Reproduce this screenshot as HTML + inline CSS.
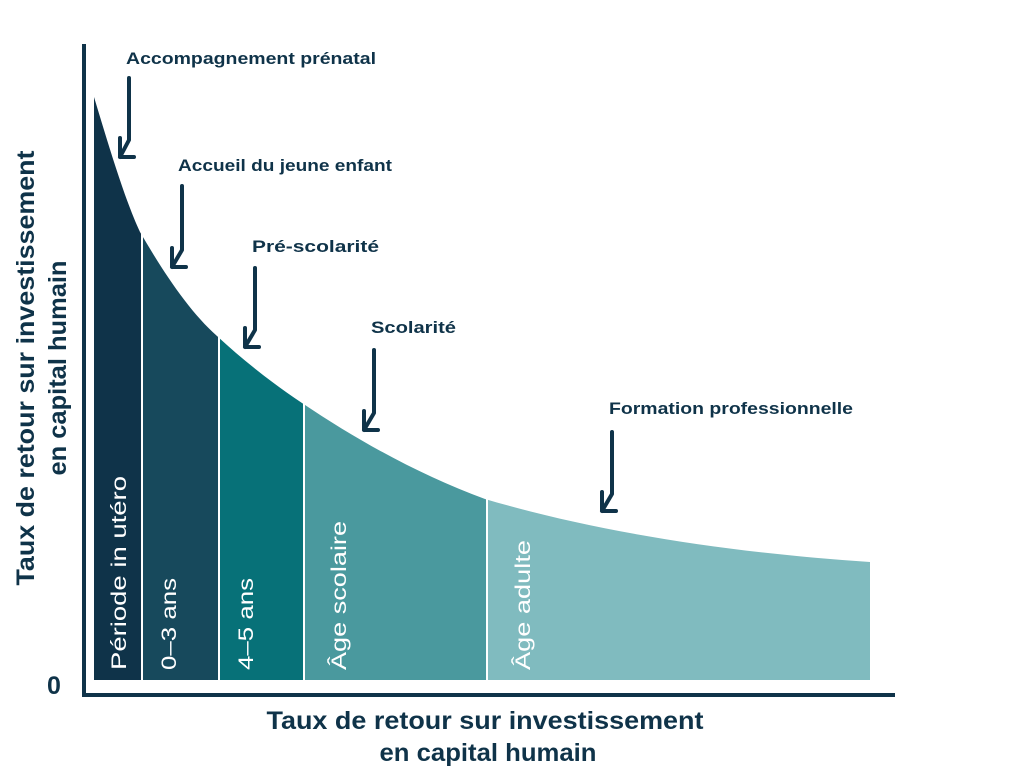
<!DOCTYPE html>
<html><head><meta charset="utf-8"><style>
html,body{margin:0;padding:0;background:#fff;}
svg{display:block;font-family:"Liberation Sans",sans-serif;}
</style></head><body>
<svg width="1024" height="775" viewBox="0 0 1024 775">
<defs>
<clipPath id="c"><path d="M94,97 C110,150 125,200 140,232 C165,275 190,312 217,336 C245,362 275,385 302,403 C360,442 420,475 485,499 C590,530 720,552 870,562 L870,680 L94,680 Z"/></clipPath>
</defs>
<g clip-path="url(#c)">
<rect x="94" y="80" width="47" height="600" fill="#0f3349"/>
<rect x="143" y="80" width="75" height="600" fill="#17495c"/>
<rect x="220" y="80" width="83" height="600" fill="#077178"/>
<rect x="305" y="80" width="181" height="600" fill="#4a999e"/>
<rect x="488" y="80" width="382" height="600" fill="#80bbbf"/>
</g>
<path d="M84,44 L84,695 L895,695" fill="none" stroke="#0f3349" stroke-width="4"/>
<text x="47" y="694" font-size="25" font-weight="bold" fill="#0f3349">0</text>
<g fill="#fff" font-size="21" lengthAdjust="spacingAndGlyphs">
<text transform="translate(126,670) rotate(-90)" textLength="194" lengthAdjust="spacingAndGlyphs">Période in utéro</text>
<text transform="translate(176,670) rotate(-90)" textLength="92" lengthAdjust="spacingAndGlyphs">0–3 ans</text>
<text transform="translate(253,670) rotate(-90)" textLength="92" lengthAdjust="spacingAndGlyphs">4–5 ans</text>
<text transform="translate(346,670) rotate(-90)" textLength="149" lengthAdjust="spacingAndGlyphs">Âge scolaire</text>
<text transform="translate(530,670) rotate(-90)" textLength="130" lengthAdjust="spacingAndGlyphs">Âge adulte</text>
</g>
<g fill="#0f3349" font-size="17" font-weight="bold">
<text x="126" y="64" textLength="250" lengthAdjust="spacingAndGlyphs">Accompagnement prénatal</text>
<text x="178" y="171" textLength="214" lengthAdjust="spacingAndGlyphs">Accueil du jeune enfant</text>
<text x="252" y="252" textLength="127" lengthAdjust="spacingAndGlyphs">Pré-scolarité</text>
<text x="371" y="333" textLength="85" lengthAdjust="spacingAndGlyphs">Scolarité</text>
<text x="609" y="414" textLength="244" lengthAdjust="spacingAndGlyphs">Formation professionnelle</text>
</g>
<g fill="none" stroke="#0f3349" stroke-width="4" stroke-linecap="round" stroke-linejoin="round">
<path d="M129,78 L129,140 L120,157 M120,138 L120,157 L134,157"/>
<path d="M182,186 L182,250 L172,267 M172,248 L172,267 L186,267"/>
<path d="M255,268 L255,330 L245,347 M245,328 L245,347 L259,347"/>
<path d="M374,350 L374,413 L364,430 M364,411 L364,430 L378,430"/>
<path d="M612,432 L612,494 L602,511 M602,492 L602,511 L616,511"/>
</g>
<g fill="#0f3349" font-size="25" font-weight="bold" text-anchor="middle">
<text transform="translate(34,368) rotate(-90)" textLength="435" lengthAdjust="spacingAndGlyphs">Taux de retour sur investissement</text>
<text transform="translate(66,368) rotate(-90)" textLength="215" lengthAdjust="spacingAndGlyphs">en capital humain</text>
<text x="485" y="729" textLength="437" lengthAdjust="spacingAndGlyphs">Taux de retour sur investissement</text>
<text x="488" y="761" textLength="217" lengthAdjust="spacingAndGlyphs">en capital humain</text>
</g>
</svg>
</body></html>
